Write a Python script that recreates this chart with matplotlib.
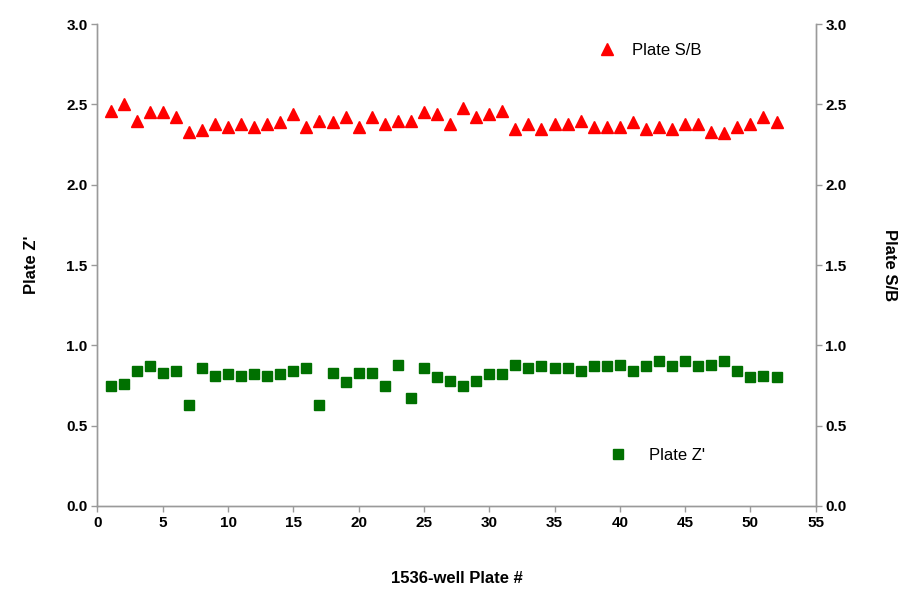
import matplotlib
matplotlib.use("Agg")
import matplotlib.pyplot as plt
from matplotlib.lines import Line2D

plates = list(range(1, 53))
plate_sb = [2.46, 2.50, 2.40, 2.45, 2.45, 2.42, 2.33, 2.34, 2.38, 2.36,
            2.38, 2.36, 2.38, 2.39, 2.44, 2.36, 2.40, 2.39, 2.42, 2.36,
            2.42, 2.38, 2.40, 2.40, 2.45, 2.44, 2.38, 2.48, 2.42, 2.44,
            2.46, 2.35, 2.38, 2.35, 2.38, 2.38, 2.40, 2.36, 2.36, 2.36,
            2.39, 2.35, 2.36, 2.35, 2.38, 2.38, 2.33, 2.32, 2.36, 2.38,
            2.42, 2.39]
plate_z = [0.75, 0.76, 0.84, 0.87, 0.83, 0.84, 0.63, 0.86, 0.81, 0.82,
           0.81, 0.82, 0.81, 0.82, 0.84, 0.86, 0.63, 0.83, 0.77, 0.83,
           0.83, 0.75, 0.88, 0.67, 0.86, 0.80, 0.78, 0.75, 0.78, 0.82,
           0.82, 0.88, 0.86, 0.87, 0.86, 0.86, 0.84, 0.87, 0.87, 0.88,
           0.84, 0.87, 0.90, 0.87, 0.90, 0.87, 0.88, 0.90, 0.84, 0.80,
           0.81, 0.80]
x_ticks = list(range(0, 56, 5))
y_ticks = [0.0, 0.5, 1.0, 1.5, 2.0, 2.5, 3.0]

plt.rcParams['font.family'] = ['Liberation Sans', 'DejaVu Sans']

fig = plt.figure(figsize=(9.05, 5.89), dpi=100)
ax = fig.add_axes([0.1077, 0.141, 0.7936, 0.818])
ax2 = ax.twinx()

gray = '#9a9a9a'
for a in (ax, ax2):
    a.set_xlim(0, 55)
    a.set_ylim(0, 3.0)
    a.spines['top'].set_visible(False)
    for s in ('left', 'right', 'bottom'):
        a.spines[s].set_color(gray)
        a.spines[s].set_linewidth(1.0)

ax.plot(plates, plate_z, linestyle='none', marker='s', markersize=6.5,
        color='#007000', markeredgecolor='#007000')
ax2.plot(plates, plate_sb, linestyle='none', marker='^', markersize=8,
         color='#ff0000', markeredgecolor='#ff0000')

ax.set_xticks(x_ticks)
ax.set_yticks(y_ticks)
ax.set_yticklabels([f"{v:.1f}" for v in y_ticks])
ax2.set_yticks(y_ticks)
ax2.set_yticklabels([f"{v:.1f}" for v in y_ticks])

for a in (ax, ax2):
    a.tick_params(axis='both', direction='out', length=4, width=1, color=gray,
                  labelsize=11, pad=3)
    for lab in a.get_xticklabels() + a.get_yticklabels():
        lab.set_fontweight('bold')

ax.set_xlabel('1536-well Plate #', fontsize=12, fontweight='bold', labelpad=30)
ax.set_ylabel("Plate Z'", fontsize=12, fontweight='bold', labelpad=20)
ax2.set_ylabel('Plate S/B', fontsize=12, fontweight='bold', rotation=270,
               labelpad=36)

h1 = [Line2D([], [], linestyle='none', marker='^', markersize=8, color='#ff0000')]
leg1 = ax2.legend(h1, ['Plate S/B'], loc='center left', frameon=False,
                  bbox_to_anchor=(0.665, 0.945), fontsize=12, handletextpad=0.5)
h2 = [Line2D([], [], linestyle='none', marker='s', markersize=6.5, color='#007000')]
leg2 = ax.legend(h2, ["Plate Z'"], loc='center left', frameon=False,
                 bbox_to_anchor=(0.68, 0.105), fontsize=12, handletextpad=0.9)

fig.savefig('out.png', dpi=100)
